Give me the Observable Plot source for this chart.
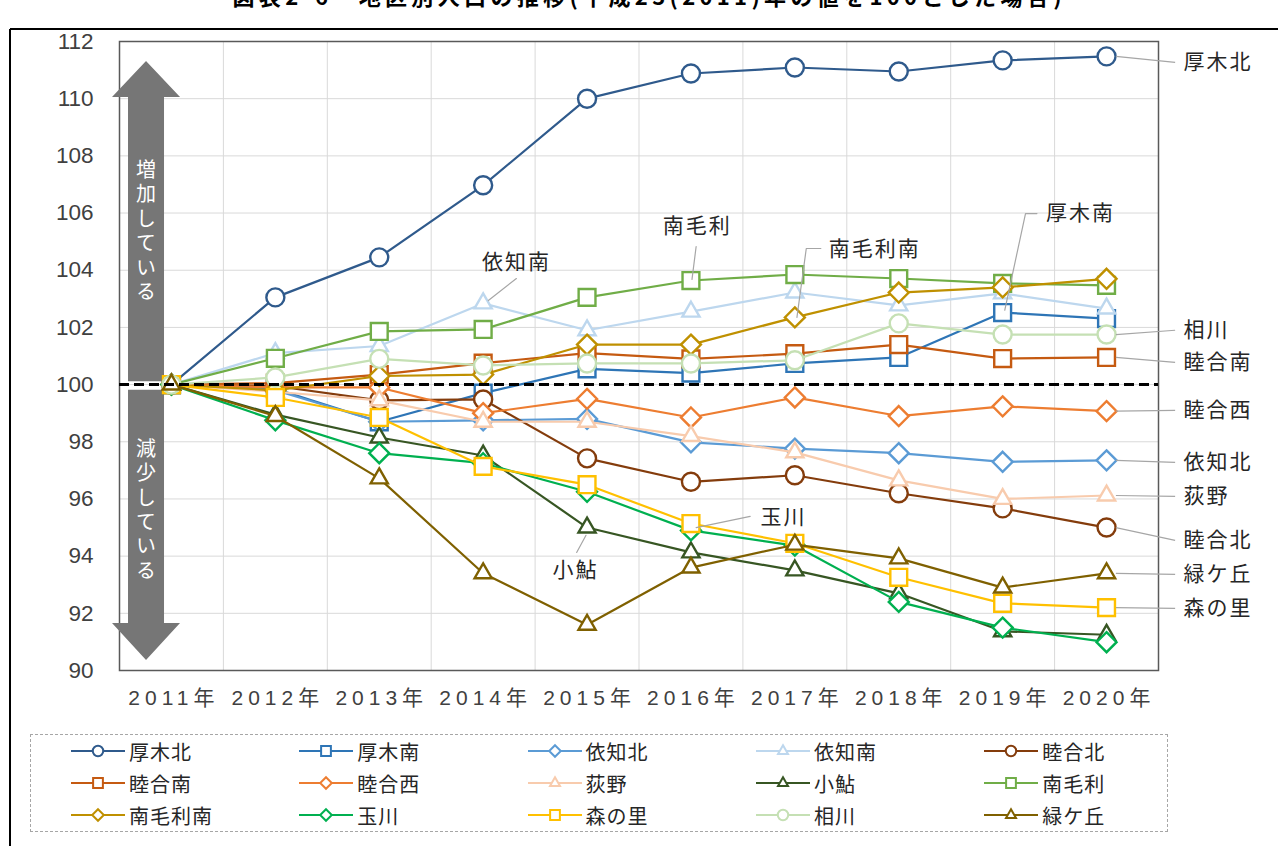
<!DOCTYPE html>
<html><head><meta charset="utf-8">
<script src="https://cdn.jsdelivr.net/npm/d3@7"></script>
<script src="https://cdn.jsdelivr.net/npm/@observablehq/plot@0.6"></script>
<style>
body{margin:0;background:#fff;overflow:hidden;}
#wrap{position:relative;width:1278px;height:846px;overflow:hidden;font-family:"Noto Sans CJK JP",sans-serif;background:#fff;}
#wrap svg{position:absolute;left:0;top:0;}
#wrap g[aria-label="text"] text{letter-spacing:2px;}
#legend{position:absolute;left:30px;top:734px;width:1138px;height:98px;border:1px dashed #a6a6a6;box-sizing:border-box;}
.item{position:absolute;height:24px;display:flex;align-items:center;font-size:20px;color:#262626;letter-spacing:1px;}
.item svg{position:static !important;margin-right:4px;}
</style></head><body><div id="wrap"><div id="legend"></div></div>
<script>
const years = [2011, 2012, 2013, 2014, 2015, 2016, 2017, 2018, 2019, 2020];
const districts = ["厚木北","厚木南","依知北","依知南","睦合北","睦合南","睦合西","荻野","小鮎","南毛利","南毛利南","玉川","森の里","相川","緑ケ丘"];
const colors = ["#2F5A8C","#2E75B6","#5B9BD5","#BDD7EE","#843C0C","#C55A11","#ED7D31","#F8CBAD","#375623","#70AD47","#BF9000","#00B050","#FFC000","#C5E0B4","#7F6000"];
const symbols = ["circle","square","diamond2","triangle2","circle","square","diamond2","triangle2","triangle2","square","diamond2","diamond2","square","circle","triangle2"];

const atsugiKita   = [100, 103.05, 104.45, 106.97, 110.00, 110.88, 111.09, 110.95, 111.34, 111.48];
const atsugiMinami = [100, 99.85, 98.70, 99.70, 100.55, 100.40, 100.74, 100.95, 102.52, 102.31];
const echiKita     = [100, 99.80, 98.70, 98.75, 98.80, 97.98, 97.76, 97.60, 97.30, 97.35];
const echiMinami   = [100, 101.10, 101.35, 102.84, 101.90, 102.55, 103.22, 102.77, 103.19, 102.66];
const mutsuaiKita  = [100, 99.95, 99.45, 99.48, 97.42, 96.60, 96.83, 96.20, 95.67, 95.00];
const mutsuaiMinami= [100, 100.05, 100.35, 100.75, 101.10, 100.90, 101.08, 101.40, 100.91, 100.95];
const mutsuaiNishi = [100, 99.90, 99.90, 99.00, 99.50, 98.85, 99.55, 98.90, 99.24, 99.07];
const ogino        = [100, 99.75, 99.45, 98.70, 98.70, 98.20, 97.63, 96.65, 96.00, 96.12];
const koayu        = [100, 98.95, 98.15, 97.52, 95.00, 94.13, 93.50, 92.70, 91.37, 91.25];
const minamiMori   = [100, 100.92, 101.86, 101.93, 103.05, 103.64, 103.85, 103.71, 103.54, 103.47];
const minamiMoriMinami = [100, 99.80, 100.30, 100.35, 101.40, 101.40, 102.35, 103.22, 103.40, 103.70];
const tamagawa     = [100, 98.75, 97.60, 97.25, 96.25, 94.90, 94.37, 92.40, 91.50, 90.99];
const morinosato   = [100, 99.55, 98.85, 97.14, 96.50, 95.14, 94.45, 93.26, 92.35, 92.20];
const aikawa       = [100, 100.25, 100.90, 100.67, 100.74, 100.74, 100.85, 102.14, 101.75, 101.75];
const midorigaoka  = [100, 98.90, 96.72, 93.40, 91.60, 93.60, 94.40, 93.92, 92.90, 93.40];
const valueArrays = [atsugiKita, atsugiMinami, echiKita, echiMinami, mutsuaiKita, mutsuaiMinami, mutsuaiNishi, ogino, koayu, minamiMori, minamiMoriMinami, tamagawa, morinosato, aikawa, midorigaoka];

const yTicks = [90, 92, 94, 96, 98, 100, 102, 104, 106, 108, 110, 112];
const title = "図表2-6　地区別人口の推移(平成23(2011)年の値を100とした場合)";
const upText = "増加している";
const downText = "減少している";

// right-side labels (name, label y in data units)
const rightLabels = [
  {name:"厚木北", ly:111.27}, {name:"相川", ly:101.90}, {name:"睦合南", ly:100.78},
  {name:"睦合西", ly:99.10}, {name:"依知北", ly:97.28}, {name:"荻野", ly:96.09},
  {name:"睦合北", ly:94.55}, {name:"緑ケ丘", ly:93.36}, {name:"森の里", ly:92.17}
];
// in-plot callouts: text position and leader path (data units)
const callouts = [
  {name:"依知南", x:2014.32, y:104.27, path:[[2014.32,103.71],[2014.05,102.94]]},
  {name:"南毛利", x:2016.06, y:105.53, path:[[2016.05,104.83],[2016.01,103.68]]},
  {name:"南毛利南", x:2017.77, y:104.73, path:[[2017.25,104.76],[2017.11,104.76],[2017.02,102.35]]},
  {name:"厚木南", x:2019.75, y:105.98, path:[[2019.33,105.98],[2019.22,105.98],[2019.02,102.60]]},
  {name:"小鮎", x:2014.89, y:93.50, path:[[2014.99,94.73],[2014.90,94.13]]},
  {name:"玉川", x:2016.89, y:95.36, path:[[2016.57,95.39],[2016.05,95.00]]}
];

const radius = {circle:9, square:9.5, diamond2:9, triangle2:8.2};
const series = districts.map((name,i)=>({name, color:colors[i], symbol:symbols[i],
  rows: years.map((yr,j)=>({name, year:yr, value:valueArrays[i][j]}))}));

const marks = [
  Plot.gridX(years.slice(1).map(v=>v-0.5), {stroke:"#d9d9d9", strokeOpacity:1, strokeWidth:1}),
  Plot.gridY(yTicks.slice(1,-1), {stroke:"#d9d9d9", strokeOpacity:1, strokeWidth:1}),
  Plot.frame({stroke:"#595959", strokeWidth:1.5}),
  Plot.axisY({ticks:yTicks, tickSize:0, tickPadding:26, fontSize:22, label:null}),
  Plot.axisX({ticks:years, tickFormat:d=>d+"年", tickSize:0, tickPadding:20, fontSize:21, label:null})
];
for (const s of series) {
  marks.push(Plot.line(s.rows, {x:"year", y:"value", stroke:s.color, strokeWidth:2.2}));
  marks.push(Plot.dot(s.rows, {x:"year", y:"value", symbol:()=>s.symbol, r:radius[s.symbol], stroke:s.color, fill:"white", strokeWidth:2.4}));
}
marks.push(Plot.ruleY([100], {stroke:"#000", strokeWidth:3, strokeDasharray:"10,5"}));

// right labels with leaders
const last = years.length-1;
const rightRows = rightLabels.map(r=>{
  const i = districts.indexOf(r.name);
  return {...r, vy: valueArrays[i][last]};
});
marks.push(Plot.link(rightRows, {x1:()=>years[last]+0.09, y1:"vy", x2:()=>years[last]+0.66, y2:"ly", stroke:"#a6a6a6", strokeWidth:1.2}));
marks.push(Plot.text(rightRows, {x:()=>years[last]+0.74, y:"ly", text:"name", textAnchor:"start", fontSize:21, fill:"#262626"}));
for (const c of callouts) {
  marks.push(Plot.line(c.path, {x:d=>d[0], y:d=>d[1], stroke:"#a6a6a6", strokeWidth:1.2}));
}
marks.push(Plot.text(callouts, {x:"x", y:"y", text:"name", fontSize:21, fill:"#262626"}));

const plot = Plot.plot({
  width:1278, height:846,
  marginLeft:119, marginRight:120, marginTop:41, marginBottom:176,
  x:{type:"linear", domain:[2010.5, 2020.5], axis:null},
  y:{domain:[90,112], axis:null},
  style:{fontFamily:'"Liberation Sans","Noto Sans CJK JP",sans-serif', fontSize:"20px", color:"#404040", background:"transparent", overflow:"visible"},
  marks
});
const wrap = document.getElementById("wrap");
wrap.insertBefore(plot, wrap.firstChild);

const svg = d3.select(plot);
svg.selectAll('[aria-label="x-axis tick label"]').attr("font-size","21px").style("font-size","21px");
svg.selectAll('[aria-label="x-axis tick label"] text').attr("letter-spacing","5px").attr("dx","2.5px");
svg.selectAll('[aria-label="y-axis tick label"]').attr("font-size","22.5px").style("font-size","22.5px");
const xs = plot.scale("x"), ys = plot.scale("y");

// gray double arrows (drawn under the series, above the grid)
const cx = xs.apply(2010.76), sw = 18, hw = 34;
const arrows = [
  {tip:111.3, base:110.04, end:100.1},
  {tip:90.35, base:91.64, end:99.8}
];
const gridLayer = svg.select('[aria-label="frame"]').node();
const ag = svg.insert("g", () => gridLayer.nextSibling);
for (const a of arrows) {
  const t = ys.apply(a.tip), b = ys.apply(a.base), e = ys.apply(a.end);
  ag.append("path").attr("fill","#767676")
    .attr("d", `M${cx},${t}L${cx+hw},${b}L${cx+sw},${b}L${cx+sw},${e}L${cx-sw},${e}L${cx-sw},${b}L${cx-hw},${b}Z`);
}
ag.append("text").text(upText).attr("x",cx).attr("y",ys.apply(105.3))
  .attr("text-anchor","middle").attr("fill","#fff").attr("font-size",20)
  .attr("letter-spacing","4.4px").style("writing-mode","vertical-rl")
  .attr("font-family",'"Noto Sans CJK JP",sans-serif');
ag.append("text").text(downText).attr("x",cx).attr("y",ys.apply(95.55))
  .attr("text-anchor","middle").attr("fill","#fff").attr("font-size",20)
  .attr("letter-spacing","4.4px").style("writing-mode","vertical-rl")
  .attr("font-family",'"Noto Sans CJK JP",sans-serif');

// title (cropped at top, as in the source) and outer frame
svg.append("text").text(title).attr("x",647).attr("y",5).attr("text-anchor","middle")
  .attr("font-size",22).attr("font-weight","bold").attr("fill","#000")
  .attr("textLength",829).attr("lengthAdjust","spacing")
  .attr("font-family",'"Noto Sans CJK JP",sans-serif');
svg.append("line").attr("x1",10).attr("x2",1278).attr("y1",29).attr("y2",29).attr("stroke","#000").attr("stroke-width",2);
svg.append("line").attr("x1",10).attr("x2",10).attr("y1",29).attr("y2",846).attr("stroke","#000").attr("stroke-width",2);

// legend
const legend = d3.select("#legend");
series.forEach((s,i)=>{
  const col = i%5, row = Math.floor(i/5);
  const item = legend.append("div").attr("class","item")
    .style("left", (40 + col*228.3) + "px").style("top", (16 - 12 + row*32) + "px");
  const sv = item.append("svg").attr("width",54).attr("height",22);
  sv.append("line").attr("x1",0).attr("x2",54).attr("y1",11).attr("y2",11).attr("stroke",s.color).attr("stroke-width",2.2);
  const symMap = {circle:d3.symbolCircle, square:d3.symbolSquare, diamond2:d3.symbolDiamond2, triangle2:d3.symbolTriangle2};
  const rr = radius[s.symbol]*0.58;
  sv.append("path").attr("transform","translate(27,11)")
    .attr("d", d3.symbol(symMap[s.symbol], rr*rr*Math.PI)())
    .attr("fill","#fff").attr("stroke",s.color).attr("stroke-width",2);
  item.append("span").text(s.name);
});
</script></body></html>
